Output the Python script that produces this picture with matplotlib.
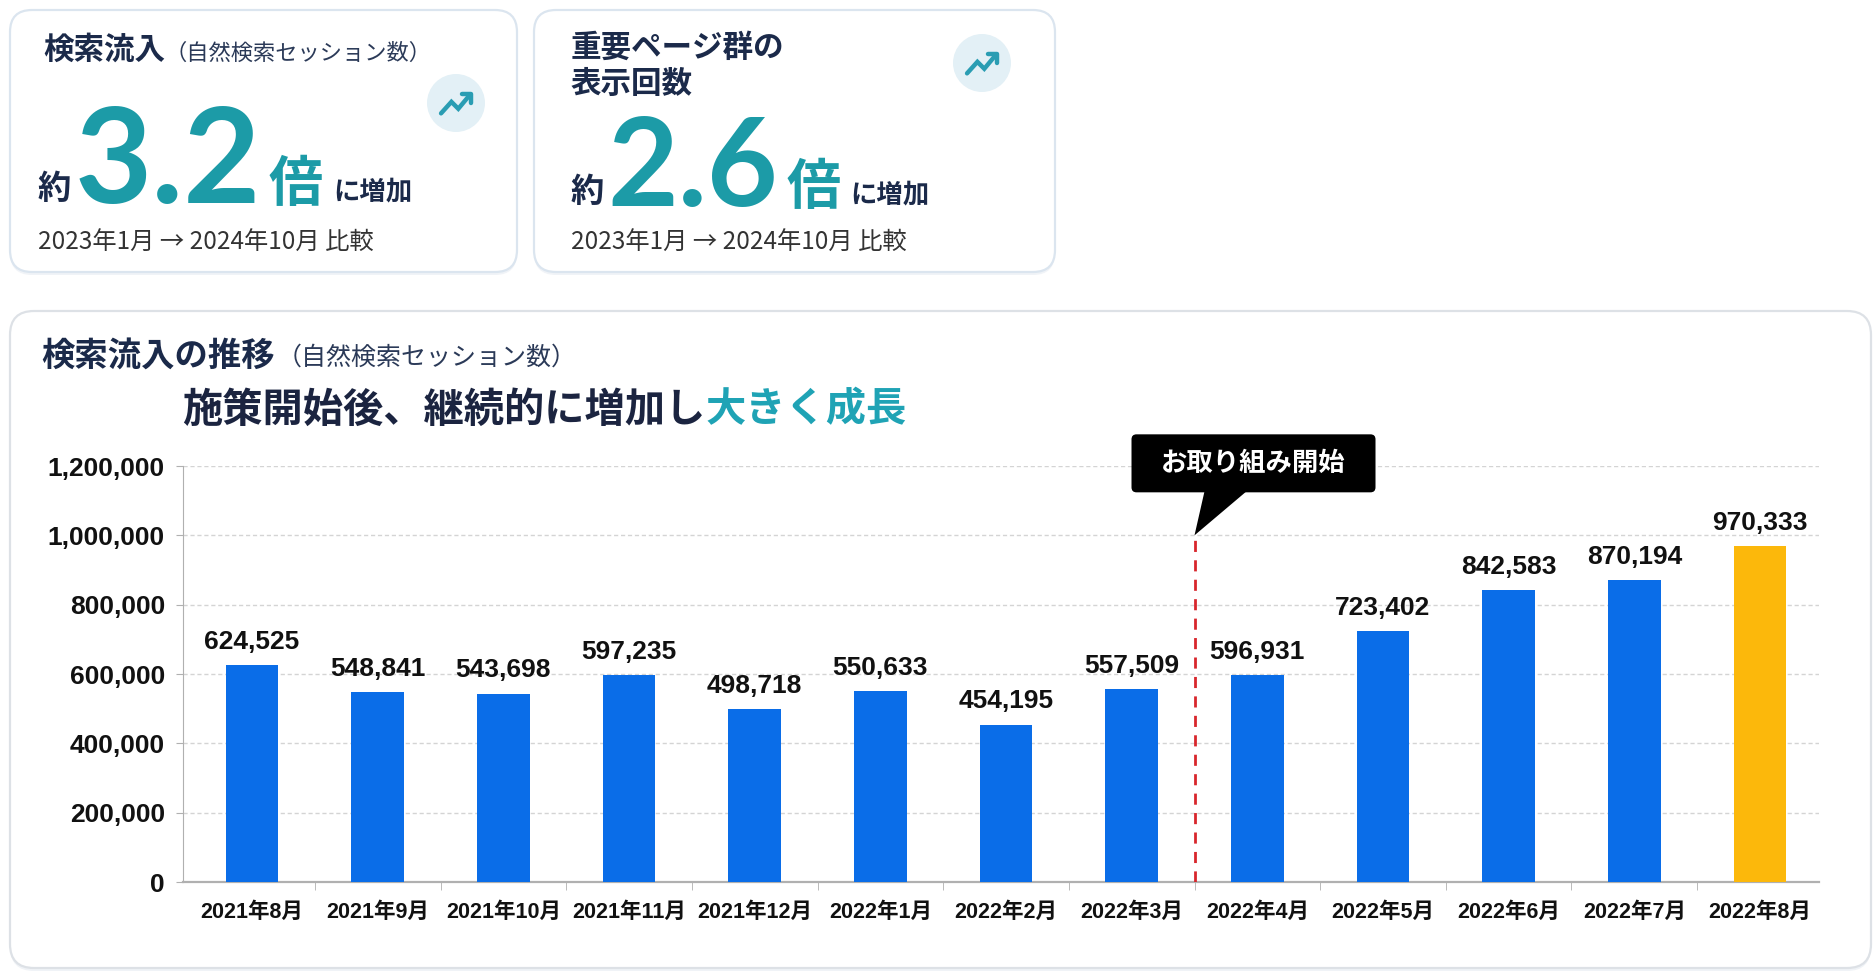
import matplotlib
matplotlib.use('Agg')
import matplotlib.pyplot as plt
from matplotlib.patches import FancyBboxPatch, Circle, Polygon
from matplotlib import font_manager
from matplotlib.ticker import FuncFormatter

# データ
months = ['2021年8月', '2021年9月', '2021年10月', '2021年11月', '2021年12月',
          '2022年1月', '2022年2月', '2022年3月', '2022年4月', '2022年5月',
          '2022年6月', '2022年7月', '2022年8月']
sessions = [624525, 548841, 543698, 597235, 498718, 550633, 454195,
            557509, 596931, 723402, 842583, 870194, 970333]
start_month = '2022年4月'
start_label = 'お取り組み開始'
y_ticks = [0, 200000, 400000, 600000, 800000, 1000000, 1200000]

kpi_titles = [['検索流入'], ['重要ページ群の', '表示回数']]
kpi_subs = ['（自然検索セッション数）', '']
kpi_values = ['3.2', '2.6']
kpi_period = '2023年1月 → 2024年10月 比較'

chart_title = '検索流入の推移'
chart_sub = '（自然検索セッション数）'
headline_a = '施策開始後、継続的に増加し'
headline_b = '大きく成長'

JP = 'Noto Sans CJK JP'
names = {f.name for f in font_manager.fontManager.ttflist}
NUM = 'Liberation Sans Narrow' if 'Liberation Sans Narrow' in names else 'Liberation Sans'
plt.rcParams['font.family'] = [JP, 'DejaVu Sans']

NAVY = '#1b2a4a'
TEAL = '#1c9ba7'
BLUE = '#0a6de8'
GOLD = '#fcb80b'

W, H = 1874, 972
fig = plt.figure(figsize=(W / 100, H / 100), dpi=100)
fig.patch.set_facecolor('white')
bg = fig.add_axes([0, 0, 1, 1], zorder=0)
bg.set_xlim(0, W)
bg.set_ylim(H, 0)
bg.axis('off')
renderer = fig.canvas.get_renderer()


def card(x0, y0, x1, y1, ec, r=22):
    bg.add_patch(FancyBboxPatch((x0, y0 + 3), x1 - x0, y1 - y0,
                                boxstyle=f'round,pad=0,rounding_size={r}',
                                fc='#f0f3f7', ec='none'))
    bg.add_patch(FancyBboxPatch((x0, y0), x1 - x0, y1 - y0,
                                boxstyle=f'round,pad=0,rounding_size={r}',
                                fc='white', ec=ec, lw=1.6))


def after(t, gap):
    return t.get_window_extent(renderer).x1 + gap


def icon(cx, cy, r=29):
    bg.add_patch(Circle((cx, cy), r, fc='#e3f0f6', ec='none'))
    s = 1.15
    xs = [cx + s * v for v in (-13, -4, 2, 12)]
    ys = [cy + s * v for v in (9, -1, 5, -7)]
    bg.plot(xs, ys, color='#2a9db3', lw=3.2, solid_capstyle='round', solid_joinstyle='miter')
    bg.plot([cx + s * 5, cx + s * 13, cx + s * 13], [cy - s * 8, cy - s * 8, cy + s * 0],
            color='#2a9db3', lw=3.2, solid_capstyle='round')


# KPI カード
cards = [(10, 10, 517, 272), (534, 10, 1055, 272)]
title_x = [43, 571]
title_y = [[50], [48, 84]]
body_x = [38, 571]
num_base = [203, 206]
num_size = [96, 88]
icons = [(456, 103), (982, 63)]

for k in range(2):
    card(*cards[k], ec='#dbe5ef')
    icon(*icons[k])
    for line, yy in zip(kpi_titles[k], title_y[k]):
        t = bg.text(title_x[k], yy, line, fontsize=22, fontweight='bold', color=NAVY,
                    va='center', ha='left')
    if kpi_subs[k]:
        bg.text(after(t, 0), title_y[k][0] + 3, kpi_subs[k], fontsize=16, color='#2b3a58',
                va='center', ha='left')
    ty = num_base[k]
    t1 = bg.text(body_x[k], ty - 4, '約', fontsize=24, fontweight='bold', color=NAVY,
                 va='baseline', ha='left')
    t2 = bg.text(after(t1, 3), ty, kpi_values[k], fontsize=num_size[k], fontweight='bold',
                 color=TEAL, family='Lato', va='baseline', ha='left')
    t3 = bg.text(after(t2, 8), ty - 2, '倍', fontsize=39, fontweight='bold', color=TEAL,
                 va='baseline', ha='left')
    bg.text(after(t3, 10), ty - 4, 'に増加', fontsize=19, fontweight='bold', color=NAVY,
            va='baseline', ha='left')
    bg.text(body_x[k], 243, kpi_period, fontsize=17.5, color='#333333', va='center', ha='left')

# 推移カード
card(10, 311, 1871, 968, ec='#dde1e6', r=24)
t = bg.text(41, 356, chart_title, fontsize=24, fontweight='bold', color=NAVY, va='center')
bg.text(after(t, 2), 358, chart_sub, fontsize=18, color='#2b3a58', va='center')
t = bg.text(182, 410, headline_a, fontsize=29, fontweight='bold', color='#1b2440', va='center')
bg.text(after(t, 0), 410, headline_b, fontsize=29, fontweight='bold', color='#1fa3b5', va='center')

# 棒グラフ
ax = fig.add_axes([183 / W, 1 - 882 / H, (1819 - 183) / W, (882 - 466) / H], zorder=1)
ax.set_facecolor('none')
n = len(months)
x = list(range(n))
colors = [BLUE] * (n - 1) + [GOLD]
ax.bar(x, sessions, width=0.42, color=colors, zorder=3)
ax.set_xlim(-0.55, n - 1 + 0.47)
ax.set_ylim(0, y_ticks[-1])
ax.set_yticks(y_ticks)
ax.yaxis.set_major_formatter(FuncFormatter(lambda v, p: f'{int(v):,}'))
ax.yaxis.grid(True, ls=(0, (3, 2)), color='#d4d4d4', lw=1, zorder=0)
for s in ('top', 'right'):
    ax.spines[s].set_visible(False)
ax.spines['left'].set_color('#b0b0b0')
ax.spines['bottom'].set_color('#b0b0b0')
ax.spines['bottom'].set_linewidth(1.6)
ax.tick_params(axis='y', length=5, color='#b0b0b0', pad=8)
ax.set_xticks(x)
ax.set_xticklabels(months)
ax.set_xticks([i + 0.5 for i in range(n - 1)], minor=True)
ax.tick_params(axis='x', which='major', length=0, pad=14)
ax.tick_params(axis='x', which='minor', length=6, color='#b0b0b0')
for lab in ax.get_yticklabels():
    lab.set_family([NUM, JP])
    lab.set_fontsize(19)
    lab.set_fontweight('bold')
    lab.set_color('#111111')
for lab in ax.get_xticklabels():
    lab.set_family([NUM, JP])
    lab.set_fontsize(15.5)
    lab.set_fontweight('bold')
    lab.set_color('#111111')

for i, v in enumerate(sessions):
    ax.annotate(f'{v:,}', (i, v), xytext=(0, 8), textcoords='offset points',
                ha='center', va='bottom', fontsize=19, fontweight='bold',
                family=[NUM, JP], color='#111111')

# 施策開始ライン
s0 = months.index(start_month) - 0.5
tip_v = 1000000
ax.plot([s0, s0], [0, tip_v], ls=(0, (4, 3)), color='#d8262c', lw=2, zorder=4)

px, py = ax.transData.transform((s0, tip_v))
ty = H - py
box_l, box_r, box_t, box_b = px - 63, px + 181, ty - 101, ty - 43
ax.add_patch(FancyBboxPatch((box_l, box_t), box_r - box_l, box_b - box_t,
                            boxstyle='round,pad=0,rounding_size=5', fc='black', ec='none',
                            transform=bg.transData, clip_on=False, zorder=6))
ax.add_patch(Polygon([(px, ty), (px + 10, box_b - 1), (px + 52, box_b - 1)], closed=True,
                     fc='black', ec='none', transform=bg.transData, clip_on=False, zorder=6))
ax.text((box_l + box_r) / 2, (box_t + box_b) / 2, start_label, transform=bg.transData,
        fontsize=19, fontweight='bold', color='white', ha='center', va='center', zorder=7)

fig.savefig('out.png', dpi=100, facecolor='white')
